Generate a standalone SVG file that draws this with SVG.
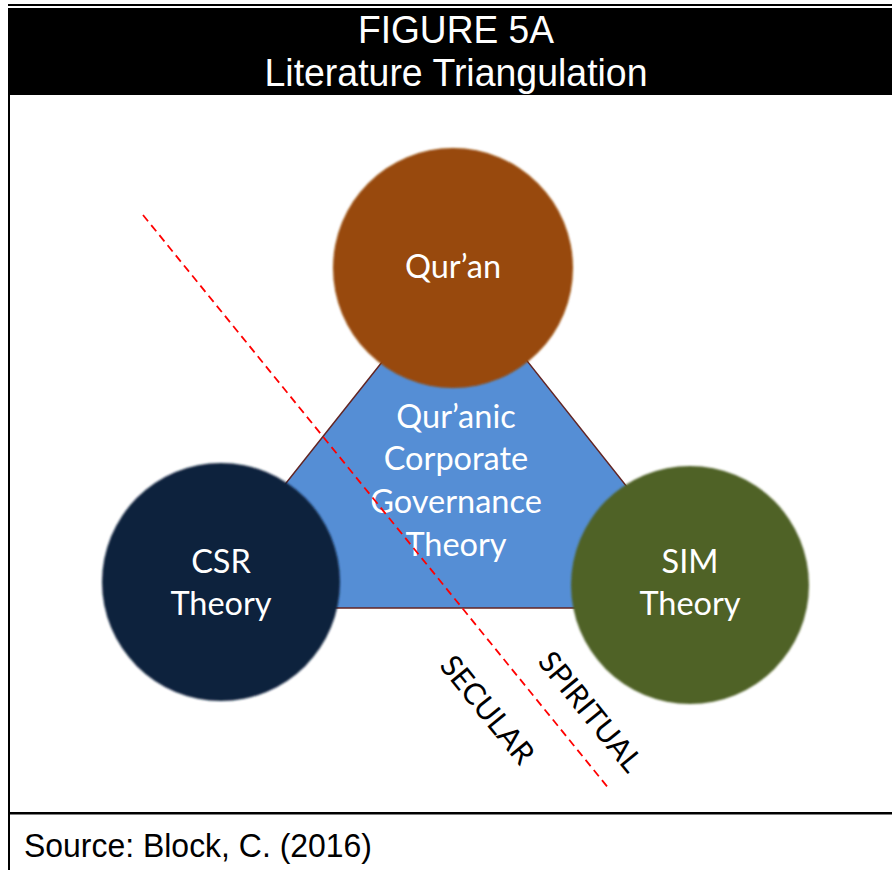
<svg xmlns="http://www.w3.org/2000/svg" width="892" height="870" viewBox="0 0 892 870">
  <style>
    .hdr { font-family: "Liberation Sans", Arial, sans-serif; fill: #ffffff; text-anchor: middle; }
    .lbl { font-family: Lato, "Open Sans", "Noto Sans", sans-serif; fill: #ffffff; text-anchor: middle; font-size: 32.5px; }
    .side { font-family: Lato, "Open Sans", "Noto Sans", sans-serif; fill: #000000; text-anchor: middle; font-size: 30px; }
    .src { font-family: "Liberation Sans", Arial, sans-serif; fill: #000000; font-size: 33px; }
  </style>
  <defs>
    <filter id="soft" x="-5%" y="-5%" width="110%" height="110%">
      <feGaussianBlur stdDeviation="0.8"/>
    </filter>
  </defs>

  <!-- page frame -->
  <rect x="0" y="0" width="892" height="870" fill="#ffffff"/>
  <rect x="8" y="4" width="884" height="2" fill="#000000"/>
  <rect x="8" y="8" width="884" height="87" fill="#000000"/>
  <rect x="8" y="95" width="2" height="775" fill="#000000"/>
  <rect x="8" y="812" width="884" height="2.5" fill="#000000"/>

  <!-- title block -->
  <g id="title">
    <text class="hdr" x="456" y="43" font-size="38" textLength="196" lengthAdjust="spacingAndGlyphs">FIGURE 5A</text>
    <text class="hdr" x="456" y="86" font-size="38" textLength="383" lengthAdjust="spacingAndGlyphs">Literature Triangulation</text>
  </g>

  <!-- central triangle -->
  <g id="core">
    <polygon points="187,608 723,608 455,270" fill="#558ed5" stroke="#632523" stroke-width="1.5"/>
  </g>

  <!-- top node -->
  <g id="quran">
    <circle cx="453" cy="268" r="120" fill="#984807" filter="url(#soft)"/>
    <text class="lbl" x="453" y="278">Qur’an</text>
  </g>

  <!-- left node -->
  <g id="csr">
    <circle cx="221" cy="582" r="119" fill="#10243e" filter="url(#soft)"/>
    <text class="lbl" x="221" y="573">CSR</text>
    <text class="lbl" x="221" y="615">Theory</text>
  </g>

  <!-- right node -->
  <g id="sim">
    <circle cx="690" cy="585" r="119" fill="#4f6228" filter="url(#soft)"/>
    <text class="lbl" x="690" y="573">SIM</text>
    <text class="lbl" x="690" y="615">Theory</text>
  </g>

  <!-- triangle caption -->
  <g id="core-label">
    <text class="lbl" x="456" y="428">Qur’anic</text>
    <text class="lbl" x="456" y="470">Corporate</text>
    <text class="lbl" x="456" y="513">Governance</text>
    <text class="lbl" x="456" y="556">Theory</text>
  </g>

  <!-- dividing line -->
  <g id="connectors">
    <line x1="143" y1="215" x2="610" y2="790" stroke="#ff0000" stroke-width="1.8" stroke-dasharray="8,5"/>
  </g>

  <!-- side labels -->
  <g id="secular">
    <text class="side" transform="translate(487,710) rotate(51)" y="10">SECULAR</text>
  </g>
  <g id="spiritual">
    <text class="side" transform="translate(590,712) rotate(51)" y="10">SPIRITUAL</text>
  </g>

  <!-- source line -->
  <g id="source">
    <text class="src" x="24" y="857" textLength="348" lengthAdjust="spacingAndGlyphs">Source: Block, C. (2016)</text>
  </g>
</svg>
